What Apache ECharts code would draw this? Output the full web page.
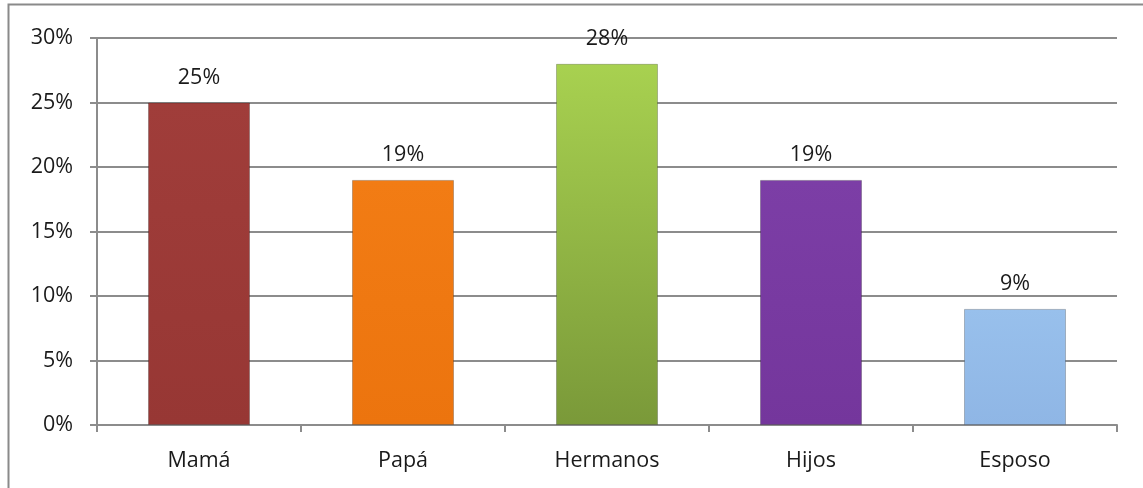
<!DOCTYPE html>
<html>
<head>
<meta charset="utf-8">
<script src="https://cdn.jsdelivr.net/npm/echarts@6/dist/echarts.min.js"></script>
<style>
html,body{margin:0;padding:0;background:#fff;}
#chart{width:1143px;height:488px;}
</style>
</head>
<body>
<div id="chart"></div>
<script>
const categories = ['Mamá', 'Papá', 'Hermanos', 'Hijos', 'Esposo'];
const values = [25, 19, 28, 19, 9];
const yTicks = [0, 5, 10, 15, 20, 25, 30];
const barColors = [
  ['#a03d3a', '#973734'],
  ['#f27c14', '#ec740e'],
  ['#a8d150', '#7a9939'],
  ['#7c3ea6', '#74369c'],
  ['#98c0ec', '#8fb6e5']
];

const font = '"Open Sans", "Liberation Sans", sans-serif';
const chart = echarts.init(document.getElementById('chart'), null, {renderer: 'canvas'});
chart.setOption({
  animation: false,
  backgroundColor: '#fff',
  graphic: [{
    type: 'rect',
    shape: {x: 8.5, y: 4.5, width: 1160, height: 500},
    style: {fill: 'none', stroke: '#8a8a8a', lineWidth: 2},
    silent: true
  }],
  grid: {left: 97, right: 26, top: 38, bottom: 63, containLabel: false},
  xAxis: {
    type: 'category',
    data: categories,
    axisLine: {show: true, lineStyle: {color: '#8c8c8c', width: 2}},
    axisTick: {show: true, length: 7, lineStyle: {color: '#8c8c8c', width: 2}},
    axisLabel: {color: '#1a1a1a', fontFamily: font, fontSize: 21.5, margin: 25},
    splitLine: {show: false}
  },
  yAxis: {
    type: 'value',
    min: yTicks[0],
    max: yTicks[yTicks.length - 1],
    interval: 5,
    axisLine: {show: true, lineStyle: {color: '#8c8c8c', width: 2}},
    axisTick: {show: true, length: 7, lineStyle: {color: '#8c8c8c', width: 2}},
    axisLabel: {color: '#1a1a1a', fontFamily: font, fontSize: 21.5, margin: 24,
      formatter: v => v + '%'},
    splitLine: {show: true, lineStyle: {color: '#8c8c8c', width: 2}}
  },
  series: [{
    type: 'bar',
    barWidth: '50%',
    data: values.map((v, i) => ({
      value: v,
      itemStyle: {
        color: new echarts.graphic.LinearGradient(0, 0, 0, 1, [
          {offset: 0, color: barColors[i][0]},
          {offset: 1, color: barColors[i][1]}
        ]),
        borderColor: 'rgba(0,0,0,0.22)',
        borderWidth: 1
      }
    })),
    label: {
      show: true,
      position: 'top',
      distance: 14,
      color: '#1a1a1a',
      fontFamily: font,
      fontSize: 21.5,
      formatter: p => p.value + '%'
    }
  }]
});
</script>
</body>
</html>
